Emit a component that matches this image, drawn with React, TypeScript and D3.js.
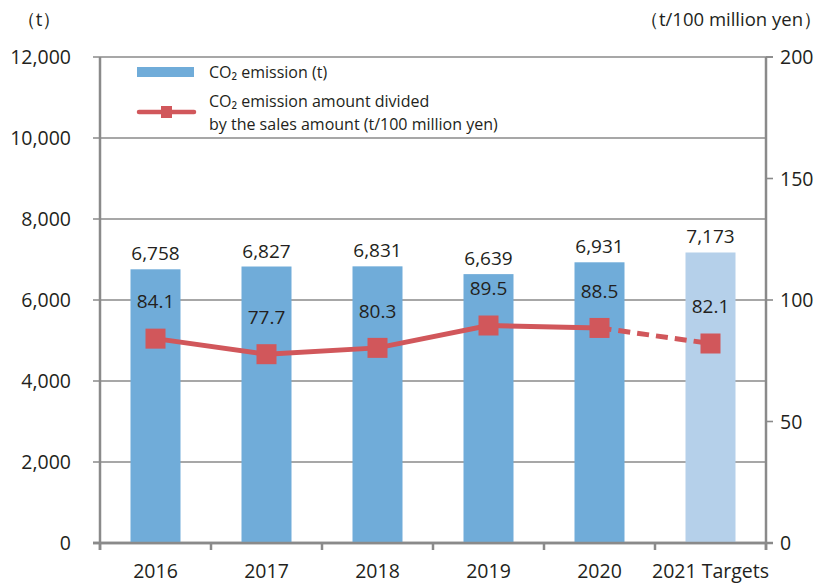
import React from "react";
import * as d3 from "d3";

const categories = ["2016", "2017", "2018", "2019", "2020", "2021 Targets"];
const emissions = [6758, 6827, 6831, 6639, 6931, 7173];
const intensity = [84.1, 77.7, 80.3, 89.5, 88.5, 82.1];
const isTarget = [false, false, false, false, false, true];
const leftTicks = [0, 2000, 4000, 6000, 8000, 10000, 12000];
const rightTicks = [0, 50, 100, 150, 200];

const W = 828, H = 584;
const M = { left: 100, right: 766, top: 57, bottom: 543 };
const FONT = "'Open Sans', 'Noto Sans', sans-serif";
const GRAY = "#8a8a8a";
const BLUE = "#70acd9";
const LIGHT = "#b5d0ea";
const RED = "#d1575b";
const TXT = "#231f20";

export default function App() {
  const x = d3.scaleBand<string>().domain(categories).range([M.left, M.right]).paddingInner(0).paddingOuter(0);
  const yL = d3.scaleLinear().domain([0, 12000]).range([M.bottom, M.top]);
  const yR = d3.scaleLinear().domain([0, 200]).range([M.bottom, M.top]);
  const barW = 50;
  const fmt = d3.format(",");
  const pts = categories.map((c, i) => [x(c)! + x.bandwidth() / 2, yR(intensity[i])] as [number, number]);
  const line = d3.line();
  const solidPts = pts.filter((_, i) => !isTarget[i]);
  const lastActual = solidPts.length - 1;
  const dashedPts = pts.slice(lastActual);
  const boundaries = d3.range(categories.length + 1).map((i) => M.left + i * x.bandwidth());

  return (
    <svg width={W} height={H} style={{ position: "absolute", left: 0, top: 0 }} fontFamily={FONT}>
      <rect width={W} height={H} fill="#fff" />
      {/* gridlines */}
      {leftTicks.map((t) => (
        <line key={t} x1={M.left - 7} x2={t === 12000 ? M.right + 7 : M.right} y1={yL(t)} y2={yL(t)} stroke={GRAY} strokeWidth={t === 0 ? 2.5 : 1.6} />
      ))}
      {/* bars */}
      {categories.map((c, i) => (
        <rect key={c} x={x(c)! + x.bandwidth() / 2 - barW / 2} width={barW} y={yL(emissions[i])} height={yL(0) - yL(emissions[i])} fill={isTarget[i] ? LIGHT : BLUE} />
      ))}
      {/* axes */}
      <line x1={M.left} x2={M.left} y1={M.top} y2={M.bottom + 7} stroke={GRAY} strokeWidth={2.5} />
      <line x1={M.right} x2={M.right} y1={M.top} y2={M.bottom + 7} stroke={GRAY} strokeWidth={2.5} />
      <line x1={M.left - 7} x2={M.right + 7} y1={M.bottom} y2={M.bottom} stroke={GRAY} strokeWidth={2.5} />
      {boundaries.map((bx, i) => (
        <line key={i} x1={bx} x2={bx} y1={M.bottom} y2={M.bottom + 7} stroke={GRAY} strokeWidth={2.5} />
      ))}
      {rightTicks.map((t) => (
        <line key={t} x1={M.right} x2={M.right + 7} y1={yR(t)} y2={yR(t)} stroke={GRAY} strokeWidth={1.6} />
      ))}
      {/* left tick labels */}
      {leftTicks.map((t) => (
        <text key={t} x={71} y={yL(t)} dy="0.36em" textAnchor="end" fontSize={19.5} fill={TXT}>{fmt(t)}</text>
      ))}
      {rightTicks.map((t) => (
        <text key={t} x={780} y={yR(t)} dy="0.36em" textAnchor="start" fontSize={19.5} fill={TXT}>{t}</text>
      ))}
      {/* category labels */}
      {categories.map((c) => (
        <text key={c} x={x(c)! + x.bandwidth() / 2} y={578} textAnchor="middle" fontSize={19.5} fill={TXT}>{c}</text>
      ))}
      {/* unit labels */}
      <text x={39} y={26} textAnchor="middle" fontSize={18.5} fill={TXT}>（t）</text>
      <text x={822} y={26} textAnchor="end" fontSize={18.5} fill={TXT}>（t/100 million yen）</text>
      {/* bar value labels */}
      {categories.map((c, i) => (
        <text key={c} x={x(c)! + x.bandwidth() / 2} y={yL(emissions[i]) - 9} textAnchor="middle" fontSize={19} fill={TXT}>{fmt(emissions[i])}</text>
      ))}
      {/* line */}
      <path d={line(solidPts)!} fill="none" stroke={RED} strokeWidth={5} />
      <path d={line(dashedPts)!} fill="none" stroke={RED} strokeWidth={5} strokeDasharray="12 7" />
      {pts.map((p, i) => (
        <rect key={i} x={p[0] - 10} y={p[1] - 10} width={20} height={20} fill={RED} />
      ))}
      {categories.map((c, i) => (
        <text key={c} x={pts[i][0]} y={pts[i][1] - 37} dy="0.36em" textAnchor="middle" fontSize={19} fill={TXT}>{intensity[i].toFixed(1)}</text>
      ))}
      {/* legend */}
      <rect x={137} y={67} width={57} height={10} fill={BLUE} />
      <text x={209} y={72} dy="0.36em" fontSize={16} fill={TXT}>CO₂ emission (t)</text>
      <line x1={139} x2={194} y1={112} y2={112} stroke={RED} strokeWidth={4.5} strokeLinecap="round" />
      <rect x={161} y={106} width={11} height={12} fill={RED} />
      <text x={209} y={101} dy="0.36em" fontSize={16} fill={TXT}>CO₂ emission amount divided</text>
      <text x={209} y={124} dy="0.36em" fontSize={16} fill={TXT}>by the sales amount (t/100 million yen)</text>
    </svg>
  );
}
